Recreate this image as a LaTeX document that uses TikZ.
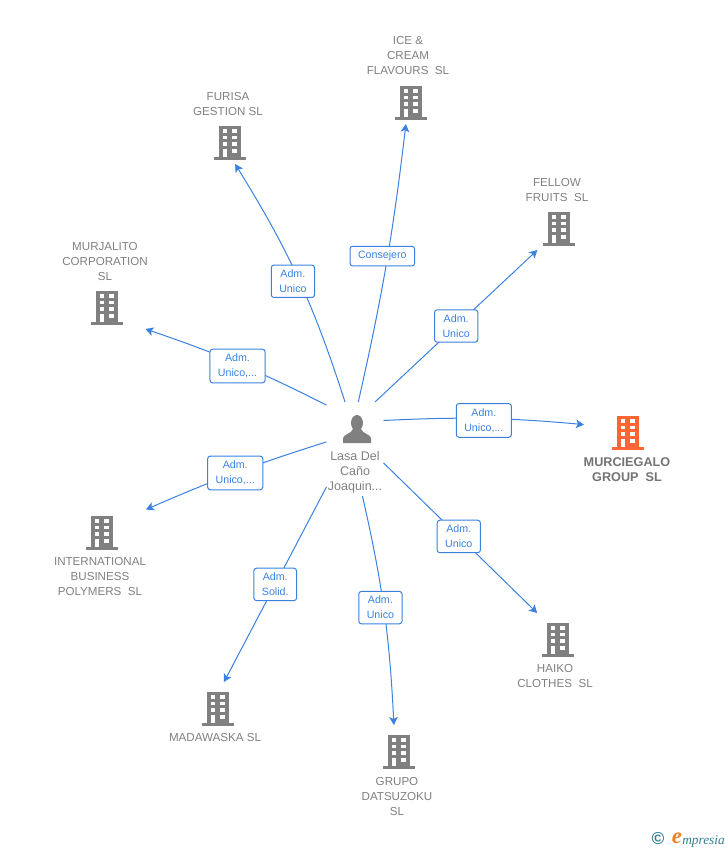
\documentclass[tikz,border=0pt]{standalone}
\usepackage{fontspec}
\setmainfont{Liberation Sans}
\newfontfamily\logofont{Liberation Serif}
\usepackage{xcolor}
\usepackage{tikz}
\usepackage{tkz-graph}
\usetikzlibrary{arrows.meta}
\definecolor{linkblue}{HTML}{3B82E0}
\definecolor{namegray}{HTML}{808080}
\definecolor{mainorange}{HTML}{FF6633}
\definecolor{logoorange}{HTML}{F08020}
\definecolor{logoteal}{HTML}{2F7F96}
\tikzset{
  building/.pic={
    \fill[pic actions] (-11,-14) rectangle (11,17);
    \fill[pic actions] (-16,17) rectangle (16,20);
    \fill[white] (-7,-11) rectangle (-3,-7);
    \fill[white] (2,-11) rectangle (7,-7);
    \fill[white] (-7,-4) rectangle (-3,-1);
    \fill[white] (2,-4) rectangle (7,-1);
    \fill[white] (-7,2) rectangle (-3,6);
    \fill[white] (2,2) rectangle (7,6);
    \fill[white] (-7,9) rectangle (-3,17);
    \fill[white] (2,9) rectangle (7,13);
  },
  person/.pic={
    \fill[pic actions] (0,-6) ellipse (6 and 8);
    \fill[pic actions] (-14,14) -- (-14,9) .. controls (-13,5) and (-6,5) .. (-4,0)
      -- (4,0) .. controls (6,5) and (13,5) .. (14,9) -- (14,14) -- cycle;
  },
  nametext/.style={text=namegray, align=center, inner sep=0pt,
    font=\fontsize{8.7}{11.25}\selectfont},
}
\begin{document}
\begin{tikzpicture}[x=0.75pt, y=-0.75pt]
\useasboundingbox (0,0) rectangle (728,850);
\GraphInit[vstyle=Normal]
\SetVertexNormal[Shape = rectangle, LineWidth = 0pt]
\SetVertexNoLabel
\tikzset{VertexStyle/.style={shape=rectangle, inner sep=0pt, minimum width=42.75pt, minimum height=70.5pt}}
\Vertex[x=355,y=449]{lasa}
\tikzset{VertexStyle/.style={shape=rectangle, inner sep=0pt, minimum width=66pt, minimum height=36pt}}
\Vertex[x=411,y=100]{ice}
\Vertex[x=230,y=140]{furisa}
\Vertex[x=559,y=226]{fellow}
\Vertex[x=107,y=305]{murjalito}
\Vertex[x=628,y=430]{murciegalo}
\Vertex[x=102,y=530]{international}
\Vertex[x=558,y=637]{haiko}
\Vertex[x=218,y=706]{madawaska}
\Vertex[x=399,y=749]{grupo}
\tikzset{EdgeStyle/.style={-{Stealth[length=6pt,width=6.5pt,inset=1.5pt]}, draw=linkblue, line width=0.75pt}}
\tikzset{LabelStyle/.style={draw=linkblue, fill=white, text=linkblue, rounded corners=2pt,
  line width=0.75pt, align=center, inner xsep=6pt, inner ysep=3.6pt,
  font=\fontsize{8}{11.25}\selectfont}}
\Edge[label={Consejero}, labelstyle={pos=.53, xshift=-4pt}, style={bend right=3}](lasa.86.3)(ice.258.2)
\Edge[label={Adm.\\Unico}, labelstyle={pos=.49, xshift=-5pt}, style={bend right=7}](lasa.102)(furisa.282.3)
\Edge[label={Adm.\\Unico}](lasa.67)(fellow.228.8)
\Edge[label={Adm.\\Unico,...}, labelstyle={yshift=-2pt}, style={bend right=4}](lasa.123.7)(murjalito.328.4)
\Edge[label={Adm.\\Unico,...}, labelstyle={yshift=-1.5pt}, style={bend left=4}](lasa.45)(murciegalo.173.5)
\Edge[label={Adm.\\Unico,...}, style={bend right=3}](lasa.166.4)(international.25.5)
\Edge[label={Adm.\\Unico}, labelstyle={pos=.49}](lasa.334.3)(haiko.131.2)
\Edge[label={Adm.\\Solid.}](lasa.233.4)(madawaska.76)
\Edge[label={Adm.\\Unico}, labelstyle={pos=.49, xshift=-2.5pt}, style={bend left=5}](lasa.279.7)(grupo.102.3)
% icons
\pic[fill=namegray] at (357,429) {person};
\pic[fill=namegray] at (ice) {building};
\pic[fill=namegray] at (furisa) {building};
\pic[fill=namegray] at (fellow) {building};
\pic[fill=namegray] at (murjalito) {building};
\pic[fill=mainorange] at (murciegalo) {building};
\pic[fill=namegray] at (international) {building};
\pic[fill=namegray] at (haiko) {building};
\pic[fill=namegray] at (madawaska) {building};
\pic[fill=namegray] at (grupo) {building};
% names
\node[nametext, font=\fontsize{9.4}{11.25}\selectfont] (lasaname) at (355,472) {Lasa Del\\Caño\\Joaquin...};
\node[nametext] (icename) at (408,56) {ICE \&\\CREAM\\FLAVOURS~~SL};
\node[nametext] (furisaname) at (228,104) {FURISA\\GESTION SL};
\node[nametext] (fellowname) at (557,190) {FELLOW\\FRUITS~~SL};
\node[nametext] (murjalitoname) at (105,262) {MURJALITO\\CORPORATION\\SL};
\node[nametext, font=\fontsize{9.5}{11.25}\bfseries\selectfont, text=namegray!90!black] (murciegaloname) at (627,470) {MURCIEGALO\\GROUP~~SL};
\node[nametext] (internationalname) at (100,576) {INTERNATIONAL\\BUSINESS\\POLYMERS~~SL};
\node[nametext] (haikoname) at (555,676) {HAIKO\\CLOTHES~~SL};
\node[nametext] (madawaskaname) at (215,737) {MADAWASKA SL};
\node[nametext] (gruponame) at (397,796) {GRUPO\\DATSUZOKU\\SL};
% logo
\node[text=logoteal, inner sep=0pt, font=\bfseries\fontsize{13}{13}\selectfont] (copyr) at (658,839) {©};
\node[text=logoorange, inner sep=0pt, font=\logofont\itshape\bfseries\fontsize{17}{17}\selectfont] (logoe) at (677,838) {e};
\node[text=logoteal, inner sep=0pt, anchor=west, font=\logofont\itshape\fontsize{10}{10}\selectfont] (logotext) at (682,841) {mpresia};
\end{tikzpicture}
\end{document}
